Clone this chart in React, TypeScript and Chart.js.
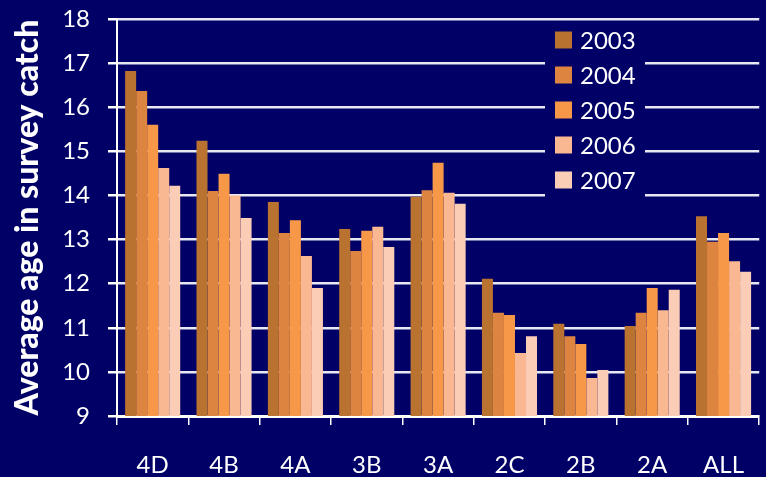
import React, { useEffect, useRef } from "react";
import { Chart, registerables } from "chart.js";

Chart.register(...registerables);

const categories = ["4D", "4B", "4A", "3B", "3A", "2C", "2B", "2A", "ALL"];
const years = ["2003", "2004", "2005", "2006", "2007"];
const v2003 = [16.82, 15.24, 13.85, 13.24, 13.97, 12.11, 11.09, 11.04, 13.53];
const v2004 = [16.37, 14.1, 13.15, 12.74, 14.12, 11.34, 10.81, 11.34, 12.95];
const v2005 = [15.6, 14.49, 13.44, 13.2, 14.74, 11.29, 10.63, 11.9, 13.15];
const v2006 = [14.62, 14.0, 12.63, 13.29, 14.06, 10.43, 9.86, 11.4, 12.51];
const v2007 = [14.22, 13.49, 11.9, 12.83, 13.81, 10.81, 10.04, 11.86, 12.27];
const seriesValues = [v2003, v2004, v2005, v2006, v2007];
const colors = ["#B9722F", "#DD8540", "#F79848", "#F9B792", "#FBCDB6"];
const yMin = 9;
const yMax = 18;
const yTitle = "Average age in survey catch";

const BG = "#000066";
const FONT = "Lato, 'Open Sans', sans-serif";

const insideLegend = {
  id: "insideLegend",
  afterDraw(chart: any) {
    const ctx = chart.ctx;
    ctx.save();
    ctx.fillStyle = BG;
    ctx.fillRect(545, 21, 100, 176);
    chart.data.datasets.forEach((ds: any, i: number) => {
      const cy = 40 + i * 35;
      ctx.fillStyle = ds.backgroundColor;
      ctx.fillRect(555, cy - 8.5, 17, 17);
      ctx.fillStyle = "#ffffff";
      ctx.font = `24px ${FONT}`;
      ctx.textAlign = "left";
      ctx.textBaseline = "middle";
      ctx.fillText(ds.label, 580, cy + 1);
    });
    ctx.restore();
  },
};

export default function App() {
  const ref = useRef<HTMLCanvasElement>(null);
  useEffect(() => {
    document.body.style.margin = "0";
    document.body.style.background = BG;
    document.body.style.overflow = "hidden";
    const chart = new Chart(ref.current as HTMLCanvasElement, {
      type: "bar",
      data: {
        labels: categories,
        datasets: years.map((y, i) => ({
          label: y,
          data: seriesValues[i],
          backgroundColor: colors[i],
          borderWidth: 0,
          barPercentage: 1.0,
          categoryPercentage: 0.772,
        })),
      },
      options: {
        animation: false,
        responsive: false,
        maintainAspectRatio: false,
        layout: { padding: { top: 19, right: 0, left: 0, bottom: 0 } },
        plugins: {
          legend: { display: false },
          tooltip: { enabled: false },
        },
        scales: {
          x: {
            afterFit: (s: any) => {
              s.height = 61;
            },
            border: { color: "#ffffff", width: 3 },
            grid: {
              drawOnChartArea: false,
              drawTicks: true,
              tickLength: 9,
              tickColor: "#ffffff",
              lineWidth: 1.5,
              offset: true,
            },
            ticks: {
              color: "#ffffff",
              font: { family: FONT, size: 24 },
              padding: 26,
              maxRotation: 0,
              autoSkip: false,
            },
          },
          y: {
            min: yMin,
            max: yMax,
            afterFit: (s: any) => {
              s.width = 117;
              s.paddingTop = 0;
              s.paddingBottom = 0;
            },
            border: { color: "#ffffff", width: 2 },
            grid: {
              color: "#e8e8f2",
              lineWidth: 2.5,
              drawTicks: true,
              tickLength: 9,
              tickColor: "#ffffff",
            },
            ticks: {
              stepSize: 1,
              color: "#ffffff",
              font: { family: FONT, size: 24 },
              padding: 18,
            },
            title: {
              display: true,
              text: yTitle,
              color: "#ffffff",
              font: { family: FONT, size: 32, weight: "900" },
              padding: { top: 8, bottom: 0 },
            },
          },
        },
      },
      plugins: [insideLegend],
    });
    return () => chart.destroy();
  }, []);
  return (
    <div style={{ position: "relative", width: 766, height: 477, overflow: "hidden", background: BG }}>
      <canvas ref={ref} width={770} height={477} style={{ display: "block", width: 770, height: 477 }} />
    </div>
  );
}
